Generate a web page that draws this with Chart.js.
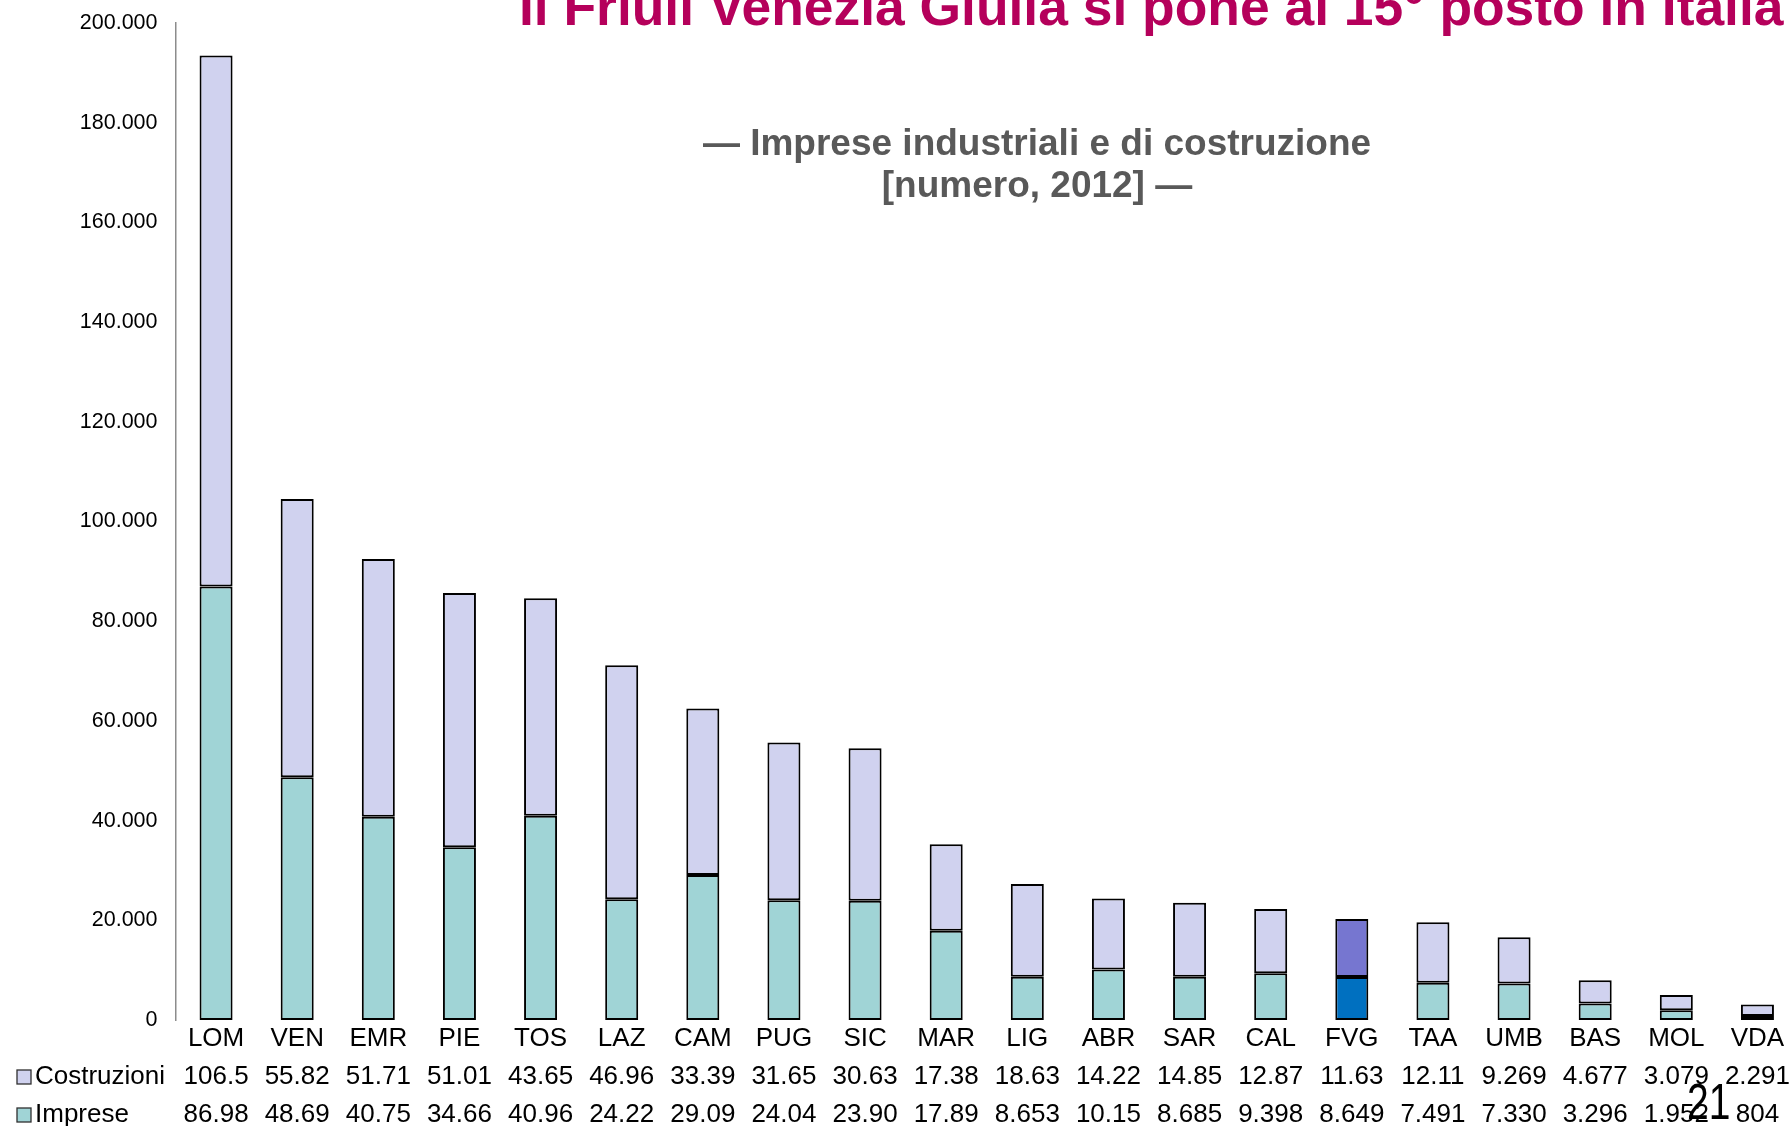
<!DOCTYPE html>
<html>
<head>
<meta charset="utf-8">
<script src="https://cdn.jsdelivr.net/npm/chart.js@4.4.1/dist/chart.umd.min.js"></script>
<style>
  html, body { margin:0; padding:0; background:#fff; overflow:hidden; width:1790px; height:1126px; }
  #wrap { position:relative; width:1800px; height:1126px; }
  #chart { position:absolute; left:0; top:0; }
  .title { position:absolute; left:519px; top:-20px; white-space:nowrap;
    font:bold 53.4px/53px 'Liberation Sans', Arial, sans-serif; color:#b5005b; }
  .sub { position:absolute; left:637px; width:800px; top:122px; text-align:center;
    font:bold 37px/42px 'Liberation Sans', Arial, sans-serif; color:#595959; }
  .page { position:absolute; left:1687px; top:1077px; transform:scaleX(0.78); transform-origin:left top;
    font:50px/50px 'Liberation Sans', Arial, sans-serif; color:#000; }
</style>
</head>
<body>
<div id="wrap">
  <canvas id="chart" width="1800" height="1126"></canvas>
  <div class="title">Il Friuli Venezia Giulia si pone al 15° posto in Italia</div>
  <div class="sub">— Imprese industriali e di costruzione<br>[numero, 2012] —</div>
  <div class="page">21</div>
</div>
<script>
// imprese industriali e di costruzione per regione, 2012
const categories  = ['LOM','VEN','EMR','PIE','TOS','LAZ','CAM','PUG','SIC','MAR','LIG','ABR','SAR','CAL','FVG','TAA','UMB','BAS','MOL','VDA'];
const costruzioni = [106500, 55820, 51710, 51010, 43650, 46960, 33390, 31650, 30630, 17380, 18630, 14220, 14850, 12870, 11630, 12110, 9269, 4677, 3079, 2291];
const imprese     = [86980, 48690, 40750, 34660, 40960, 24220, 29090, 24040, 23900, 17890, 8653, 10150, 8685, 9398, 8649, 7491, 7330, 3296, 1952, 804];
const seriesNames = ['Costruzioni', 'Imprese'];
const highlight = 'FVG';
const yMax = 200000, yStep = 20000;

const teal = '#a0d4d6', lav = '#d0d2ef', fvgBot = '#0070c0', fvgTop = '#7676d0';
const FONT = "'Liberation Sans', Arial, sans-serif";
const LINE_H = 38;

// 106500 -> "106.500"
function itFmt(n){ return String(Math.round(n)).replace(/\B(?=(\d{3})+(?!\d))/g, '.'); }
// table cells are cut to the column width like in the excel sheet
function cell(n){ return itFmt(n).slice(0, 5); }

const rowHeaders = {
  id: 'rowHeaders',
  afterDraw(chart){
    const ctx = chart.ctx, xs = chart.scales.x;
    const rows = [[seriesNames[0], lav], [seriesNames[1], teal]];
    ctx.save();
    ctx.font = '26px ' + FONT;
    ctx.textBaseline = 'middle';
    rows.forEach(([name, col], i) => {
      const y = xs.top + LINE_H * (i + 1.5);
      ctx.fillStyle = col;
      ctx.fillRect(17, y - 7, 14, 14);
      ctx.strokeStyle = '#303030'; ctx.lineWidth = 1.3;
      ctx.strokeRect(17, y - 7, 14, 14);
      ctx.fillStyle = '#000';
      ctx.textAlign = 'left';
      ctx.fillText(name, 35, y);
    });
    ctx.restore();
  }
};

new Chart(document.getElementById('chart'), {
  type: 'bar',
  data: {
    labels: categories,
    datasets: [
      { label: seriesNames[1], data: imprese,
        backgroundColor: categories.map(c => c === highlight ? fvgBot : teal) },
      { label: seriesNames[0], data: costruzioni,
        backgroundColor: categories.map(c => c === highlight ? fvgTop : lav) }
    ]
  },
  options: {
    responsive: false, animation: false,
    layout: { padding: { top: 23, right: 2, left: 0, bottom: 0 } },
    datasets: { bar: { borderColor: '#000', borderWidth: 2, borderSkipped: false,
      barPercentage: 0.407, categoryPercentage: 1 } },
    plugins: { legend: { display: false }, tooltip: { enabled: false } },
    scales: {
      x: {
        stacked: true,
        grid: { display: false, drawTicks: false },
        border: { display: false },
        afterFit: s => { s.height = 106; s.paddingLeft = 0; s.paddingRight = 0; },
        ticks: {
          autoSkip: false, maxRotation: 0, padding: 0, color: '#000',
          font: { family: FONT, size: 26, lineHeight: LINE_H / 26 },
          callback: (v, i) => [categories[i], cell(costruzioni[i]), cell(imprese[i])]
        }
      },
      y: {
        stacked: true, min: 0, max: yMax,
        grid: { display: false, drawTicks: false },
        border: { display: true, color: '#8c8c8c', width: 1.5 },
        afterFit: s => { s.width = 175.5; s.paddingTop = 0; s.paddingBottom = 0; },
        ticks: { stepSize: yStep, padding: 18, color: '#000',
          font: { family: FONT, size: 21.5 }, callback: v => itFmt(v) }
      }
    }
  },
  plugins: [rowHeaders]
});
</script>
</body>
</html>
